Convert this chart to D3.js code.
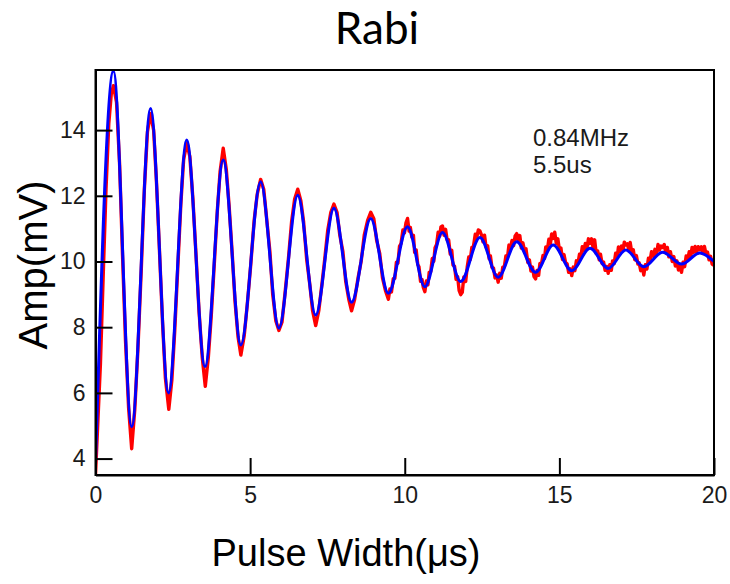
<!DOCTYPE html>
<html><head><meta charset="utf-8">
<script src="https://cdn.jsdelivr.net/npm/d3@7"></script>
<style>body{margin:0;background:#fff}svg{display:block}</style>
</head><body>
<svg id="c" width="730" height="584"></svg>
<script>
const title = "Rabi";
const xLabel = "Pulse Width(\u03bcs)";
const yLabel = "Amp(mV)";
const notes = ["0.84MHz", "5.5us"];
const xTicks = [0, 5, 10, 15, 20];
const yTicks = [4, 6, 8, 10, 12, 14];
const xDomain = [0, 20];
const yDomain = [3.5, 15.83];

// Fit (blue): extrema
const fitT = [0, 0.58, 1.17, 1.78, 2.36, 2.95, 3.54, 4.13, 4.70, 5.34, 5.93, 6.54, 7.12, 7.71, 8.28, 8.90, 9.47, 10.09, 10.65, 11.22, 11.81, 12.43, 13.02, 13.62, 14.23, 14.80, 15.40, 15.99, 16.58, 17.15, 17.73, 18.34, 18.95, 19.54, 20];
const fitV = [3.8, 15.8, 4.97, 14.66, 6.0, 13.70, 6.80, 13.09, 7.46, 12.43, 7.97, 12.02, 8.37, 11.62, 8.76, 11.31, 9.03, 11.06, 9.23, 10.88, 9.39, 10.73, 9.52, 10.60, 9.67, 10.50, 9.72, 10.40, 9.79, 10.35, 9.84, 10.28, 9.92, 10.26, 10.0];

// Measured (red)
const dataT = [
0, 0.08, 0.16, 0.25, 0.34, 0.43, 0.51, 0.58,
0.68, 0.78, 0.87, 0.97, 1.07, 1.17,
1.27, 1.37, 1.48, 1.58, 1.68, 1.78,
1.88, 1.97, 2.07, 2.17, 2.26, 2.37,
2.47, 2.56, 2.66, 2.76, 2.85, 2.95,
3.05, 3.15, 3.25, 3.35, 3.45, 3.55,
3.65, 3.74, 3.84, 3.94, 4.03, 4.13,
4.23, 4.32, 4.42, 4.51, 4.61, 4.70,
4.81, 4.91, 5.02, 5.13, 5.23, 5.34,
5.44, 5.54, 5.64, 5.73, 5.83, 5.93,
6.03, 6.13, 6.24, 6.34, 6.44, 6.54,
6.64, 6.73, 6.83, 6.93, 7.02, 7.12,
7.22, 7.32, 7.41, 7.51, 7.61, 7.71,
7.81, 7.90, 8.00, 8.09, 8.19, 8.28,
8.38, 8.49, 8.59, 8.69, 8.80, 8.90,
9.00, 9.09, 9.19, 9.28, 9.38, 9.47,
9.52, 9.57, 9.63, 9.68, 9.73, 9.78, 9.83, 9.88, 9.94, 9.99, 10.04, 10.09,
10.14, 10.18, 10.23, 10.28, 10.32, 10.37, 10.42, 10.46, 10.51, 10.56, 10.60, 10.65,
10.70, 10.75, 10.79, 10.84, 10.89, 10.94, 10.98, 11.03, 11.08, 11.13, 11.17, 11.22,
11.27, 11.32, 11.37, 11.42, 11.47, 11.52, 11.56, 11.61, 11.66, 11.71, 11.76, 11.81,
11.86, 11.91, 11.97, 12.02, 12.07, 12.12, 12.17, 12.22, 12.28, 12.33, 12.38, 12.43,
12.48, 12.53, 12.58, 12.63, 12.68, 12.73, 12.77, 12.82, 12.87, 12.92, 12.97, 13.02,
13.07, 13.12, 13.17, 13.22, 13.27, 13.32, 13.37, 13.42, 13.47, 13.52, 13.57, 13.62,
13.67, 13.72, 13.77, 13.82, 13.87, 13.92, 13.98, 14.03, 14.08, 14.13, 14.18, 14.23,
14.28, 14.33, 14.37, 14.42, 14.47, 14.52, 14.56, 14.61, 14.66, 14.71, 14.75, 14.80,
14.85, 14.90, 14.95, 15.00, 15.05, 15.10, 15.15, 15.20, 15.25, 15.30, 15.35, 15.40,
15.45, 15.50, 15.55, 15.60, 15.65, 15.70, 15.74, 15.79, 15.84, 15.89, 15.94, 15.99,
16.04, 16.09, 16.14, 16.19, 16.24, 16.29, 16.33, 16.38, 16.43, 16.48, 16.53, 16.58,
16.63, 16.68, 16.72, 16.77, 16.82, 16.87, 16.91, 16.96, 17.01, 17.06, 17.10, 17.15,
17.20, 17.25, 17.29, 17.34, 17.39, 17.44, 17.49, 17.54, 17.58, 17.63, 17.68, 17.73,
17.78, 17.83, 17.88, 17.93, 17.98, 18.04, 18.09, 18.14, 18.19, 18.24, 18.29, 18.34,
18.39, 18.44, 18.49, 18.54, 18.59, 18.65, 18.70, 18.75, 18.80, 18.85, 18.90, 18.95,
19.00, 19.05, 19.10, 19.15, 19.20, 19.25, 19.29, 19.34, 19.39, 19.44, 19.49, 19.54,
19.59, 19.64, 19.69, 19.74, 19.79, 19.84, 19.89, 19.94, 20.0];
const dataV = [
3.5, 5.2, 6.9, 9.6, 12.2, 14.2, 15.1, 15.35,
14.85, 12.95, 10.3, 7.6, 5.55, 4.3,
5.5, 7.3, 9.75, 12.2, 13.95, 14.5,
14.0, 12.45, 10.3, 8.1, 6.45, 5.5,
6.4, 7.85, 9.8, 11.75, 13.1, 13.6,
13.2, 11.9, 10.2, 8.45, 7.1, 6.2,
7.1, 8.3, 9.9, 11.55, 12.75, 13.45,
12.8, 11.7, 10.25, 8.8, 7.7, 7.15,
7.75, 8.72, 9.9, 11.25, 12.05, 12.5,
12.2, 11.25, 10.3, 9.0, 8.2, 7.9,
8.15, 9.05, 10.1, 11.2, 11.9, 12.2,
11.85, 11.2, 10.05, 9.3, 8.5, 8.05,
8.5, 9.3, 10.05, 10.95, 11.5, 11.75,
11.5, 10.8, 10.3, 9.4, 8.85, 8.5,
8.85, 9.5, 10.0, 10.8, 11.25, 11.5,
11.3, 10.65, 10.25, 9.5, 9.1, 8.85,
9.16, 9.07, 9.48, 9.49, 9.98, 9.95, 10.46, 10.55, 10.96, 10.87, 11.18, 11.31,
10.93, 11.04, 10.74, 10.80, 10.28, 10.35, 9.91, 9.84, 9.40, 9.45, 9.21, 9.08,
9.41, 9.29, 9.67, 9.69, 10.09, 10.01, 10.42, 10.52, 10.89, 10.77, 11.05, 11.08,
10.80, 10.98, 10.66, 10.66, 10.23, 10.34, 9.89, 9.86, 9.46, 9.54, 9.11, 8.99,
9.06, 9.53, 9.39, 9.83, 10.14, 10.06, 10.43, 10.45, 10.83, 10.74, 10.96, 10.93,
10.81, 10.60, 10.80, 10.43, 10.48, 10.08, 10.17, 9.82, 9.80, 9.50, 9.59, 9.37,
9.64, 9.49, 9.83, 9.84, 10.17, 10.11, 10.50, 10.43, 10.64, 10.48, 10.78, 10.85,
10.63, 10.79, 10.41, 10.57, 10.35, 10.39, 9.97, 10.05, 9.71, 9.83, 9.54, 9.47,
9.73, 9.58, 9.94, 9.93, 10.18, 10.09, 10.44, 10.34, 10.68, 10.54, 10.84, 10.70,
10.89, 10.55, 10.69, 10.36, 10.41, 10.06, 10.21, 9.97, 9.93, 9.67, 9.78, 9.57,
9.83, 9.72, 10.02, 9.94, 10.22, 10.16, 10.45, 10.33, 10.55, 10.40, 10.69, 10.55,
10.69, 10.41, 10.66, 10.25, 10.32, 10.05, 10.22, 9.94, 9.98, 9.73, 9.85, 9.64,
9.90, 9.73, 10.02, 9.93, 10.25, 10.12, 10.44, 10.31, 10.47, 10.36, 10.59, 10.50,
10.54, 10.32, 10.58, 10.27, 10.36, 10.05, 10.18, 9.92, 9.96, 9.72, 9.85, 9.59,
9.90, 9.77, 10.10, 10.00, 10.30, 10.16, 10.37, 10.22, 10.52, 10.35, 10.47, 10.43,
10.52, 10.26, 10.43, 10.14, 10.30, 10.00, 10.15, 9.86, 10.02, 9.74, 9.88, 9.67,
9.98, 9.84, 10.17, 10.06, 10.30, 10.14, 10.43, 10.28, 10.46, 10.29, 10.45, 10.36,
10.45, 10.24, 10.46, 10.23, 10.29, 10.05, 10.16, 9.92, 9.88];

const m = {left: 95.5, right: 714, top: 70, bottom: 475};
const svg = d3.select("#c");
const x = d3.scaleLinear().domain(xDomain).range([m.left, m.right]);
const y = d3.scaleLinear().domain(yDomain).range([m.bottom, m.top]);

svg.append("defs").append("clipPath").attr("id", "clip")
  .append("rect").attr("x", m.left).attr("y", m.top)
  .attr("width", m.right - m.left).attr("height", m.bottom - m.top);

const gData = svg.append("g").attr("clip-path", "url(#clip)");
const dataPts = dataT.map((t, i) => [t, dataV[i]]);
const fitPts = fitT.map((t, i) => [t, fitV[i]]);

gData.append("path").datum(dataPts)
  .attr("fill", "none").attr("stroke", "#ff0000").attr("stroke-width", 3.4)
  .attr("stroke-linejoin", "round")
  .attr("d", d3.line().x(d => x(d[0])).y(d => y(d[1])));
gData.append("path").datum(fitPts)
  .attr("fill", "none").attr("stroke", "#0000ff").attr("stroke-width", 3)
  .attr("d", d3.line().x(d => x(d[0])).y(d => y(d[1])).curve(d3.curveMonotoneX));

// frame
svg.append("rect").attr("x", m.left).attr("y", m.top)
  .attr("width", m.right - m.left).attr("height", m.bottom - m.top)
  .attr("fill", "none").attr("stroke", "#000").attr("stroke-width", 2);

const tickFont = "Liberation Sans, Arial, sans-serif";
const xAxis = svg.append("g").attr("transform", `translate(0,${m.bottom})`)
  .call(d3.axisBottom(x).tickValues(xTicks).tickSizeInner(-17).tickSizeOuter(0).tickPadding(12));
const yAxis = svg.append("g").attr("transform", `translate(${m.left},0)`)
  .call(d3.axisLeft(y).tickValues(yTicks).tickSizeInner(-17).tickSizeOuter(0).tickPadding(10));
[xAxis, yAxis].forEach(g => {
  g.select(".domain").attr("stroke", "#000").attr("stroke-width", 2);
  g.selectAll(".tick line").attr("stroke", "#000").attr("stroke-width", 2);
  g.selectAll(".tick text").attr("fill", "#1a1a1a").style("font-family", tickFont).style("font-size", "23px");
});

svg.append("text").attr("x", 377).attr("y", 44).attr("text-anchor", "middle")
  .style("font-family", "Lato, 'Open Sans', sans-serif").style("font-size", "44px").attr("fill", "#000").text(title);
svg.append("text").attr("x", 346).attr("y", 566).attr("text-anchor", "middle")
  .style("font-family", tickFont).style("font-size", "38px").attr("fill", "#000").text(xLabel);
svg.append("text").attr("transform", "translate(47,265) rotate(-90)").attr("text-anchor", "middle")
  .style("font-family", tickFont).style("font-size", "40px").attr("fill", "#000").text(yLabel);
svg.selectAll("text.note").data(notes).enter().append("text").attr("class", "note")
  .attr("x", 533).attr("y", (d, i) => 146 + i * 27)
  .style("font-family", tickFont).style("font-size", "24px").attr("fill", "#1a1a1a").text(d => d);
</script>
</body></html>
